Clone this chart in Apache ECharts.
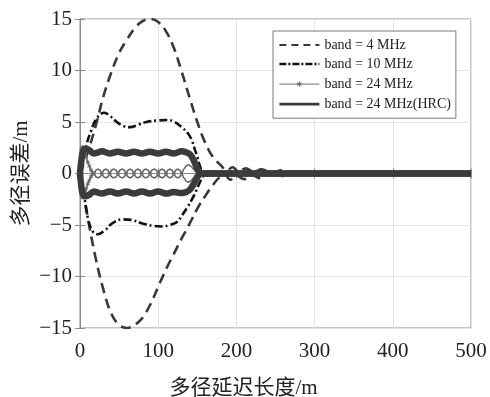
<!DOCTYPE html>
<html>
<head>
<meta charset="utf-8">
<script src="https://cdn.jsdelivr.net/npm/echarts@6/dist/echarts.min.js"></script>
<style>
  html, body { margin: 0; padding: 0; background: #fff; }
  #chart { width: 490px; height: 397px; }
</style>
</head>
<body>
<div id="chart"></div>
<script>
// Multipath error envelopes vs. multipath delay (m)
const seriesNames = ['band = 4 MHz', 'band = 10 MHz', 'band = 24 MHz', 'band = 24 MHz(HRC)'];
const xTicks = [0, 100, 200, 300, 400, 500];
const yTicks = [-15, -10, -5, 0, 5, 10, 15];

// band = 4 MHz
const b4UpX = [0, 10, 20, 30, 40, 50, 60, 70, 80, 90, 100, 110, 120, 130, 140, 150, 160, 170, 180, 188, 195, 203, 212, 222, 232, 245, 258, 270, 500];
const b4UpY = [0, 2.1, 4.6, 7.5, 9.8, 11.7, 13.0, 14.1, 14.8, 15.0, 14.7, 13.8, 12.2, 9.9, 7.4, 5.0, 3.0, 1.6, 0.8, 0.3, 0.6, 0.2, 0.5, 0.15, 0.4, 0.1, 0.3, 0, 0];
const b4LoX = [0, 5, 10, 20, 30, 40, 50, 60, 70, 80, 90, 100, 110, 120, 130, 140, 150, 160, 170, 178, 185, 192, 200, 210, 220, 230, 243, 255, 268, 500];
const b4LoY = [0, -2.0, -4.3, -8.2, -11.3, -13.6, -14.7, -15.0, -14.7, -14.0, -12.7, -11.0, -9.3, -7.8, -6.3, -4.9, -3.4, -2.2, -1.1, -0.4, -0.1, -0.6, -0.2, -0.55, -0.15, -0.45, -0.1, -0.3, 0, 0];

// band = 10 MHz
const b10UpX = [0, 4, 9, 14, 20, 27, 31, 38, 47, 56, 64, 75, 85, 100, 111, 121, 130, 138, 143, 147, 150, 153, 157, 163, 172, 182, 500];
const b10UpY = [0, 1.4, 3.0, 4.1, 5.2, 5.8, 5.9, 5.6, 5.0, 4.6, 4.5, 4.75, 5.0, 5.15, 5.2, 5.0, 4.5, 3.9, 3.2, 2.3, 1.6, 0.8, 0.1, -0.2, 0.15, 0, 0];
const b10LoX = [0, 4, 10, 16, 23, 32, 42, 55, 65, 80, 95, 105, 115, 124, 131, 138, 144, 149, 153, 157, 162, 170, 180, 500];
const b10LoY = [0, -1.5, -4.3, -5.6, -5.9, -5.5, -4.8, -4.45, -4.5, -4.85, -5.1, -5.15, -5.0, -4.7, -4.0, -3.2, -2.4, -1.6, -0.9, -0.3, 0.1, -0.2, 0, 0];

// band = 24 MHz (asterisk markers only on the steep start)
const b24UpX = [0, 0.5, 1, 1.5, 2, 3, 4, 5, 6.5, 8, 10, 12, 14, 16,
  18, 20.5, 23, 25.5, 28, 30.5, 33, 35.5, 38, 40.5, 43, 46, 48.5, 51, 54, 56.5,
  59, 61.5, 64, 66.5, 69, 71.5, 74, 76.5, 79, 81.5, 84, 87, 89.5, 92, 95, 97.5,
  100, 102.5, 105, 107.5, 110, 112.5, 115, 117.5, 120, 122.5, 125, 127.5,
  130, 133, 136, 139, 142, 145, 148, 151, 500];
const b24UpY = [0, 0.9, 1.6, 2.1, 2.4, 2.55, 2.5, 2.35, 2.0, 1.6, 1.1, 0.7, 0.35, 0.1,
  0, 0.32, 0.42, 0.32, 0, 0.32, 0.42, 0.32, 0, 0.32, 0.42, 0.32, 0, 0.32, 0.42, 0.32,
  0, 0.32, 0.42, 0.32, 0, 0.32, 0.42, 0.32, 0, 0.32, 0.42, 0.32, 0, 0.32, 0.42, 0.32,
  0, 0.32, 0.42, 0.32, 0, 0.32, 0.42, 0.32, 0, 0.32, 0.42, 0.32,
  0, 0.45, 0.75, 0.85, 0.7, 0.45, 0.15, 0, 0];
const b24LoX = b24UpX;
const b24LoY = [0, -0.8, -1.5, -1.9, -2.2, -2.3, -2.25, -2.1, -1.8, -1.45, -1.0, -0.65, -0.3, -0.1,
  0, -0.32, -0.42, -0.32, 0, -0.32, -0.42, -0.32, 0, -0.32, -0.42, -0.32, 0, -0.32, -0.42, -0.32,
  0, -0.32, -0.42, -0.32, 0, -0.32, -0.42, -0.32, 0, -0.32, -0.42, -0.32, 0, -0.32, -0.42, -0.32,
  0, -0.32, -0.42, -0.32, 0, -0.32, -0.42, -0.32, 0, -0.32, -0.42, -0.32,
  0, -0.45, -0.75, -0.85, -0.7, -0.45, -0.15, 0, 0];
const b24MarkerEnd = 16;

// band = 24 MHz (HRC)
const hrcUpX = [0, 1, 2, 3, 5, 8, 12, 18, 23, 28, 38, 48.5, 59, 69, 79, 89.5, 100, 110, 120, 130, 136, 140, 144, 147, 150, 153, 156, 500];
const hrcUpY = [0, 0.8, 1.4, 1.9, 2.3, 2.4, 2.25, 1.95, 2.05, 2.15, 1.95, 2.1, 1.95, 2.1, 1.95, 2.1, 1.95, 2.1, 1.95, 2.15, 2.05, 1.9, 1.5, 1.0, 0.5, 0.15, 0, 0];
const hrcLoX = hrcUpX;
const hrcLoY = [0, -0.8, -1.4, -1.85, -2.15, -2.2, -2.05, -1.75, -1.85, -1.95, -1.75, -1.95, -1.75, -1.95, -1.75, -1.95, -1.75, -1.95, -1.8, -1.9, -1.8, -1.6, -1.2, -0.8, -0.35, -0.1, 0, 0];

const serif = '"Liberation Serif", "Times New Roman", serif';
const cjk = '"Liberation Serif", "Noto Sans CJK SC", serif';
const axisGray = '#8a8a8a';
// asterisk strokes; the two empty corner moves pad the box so the star draws at half the symbol size
const asterisk = 'path://M0,-1L0,1M-0.866,-0.5L0.866,0.5M-0.866,0.5L0.866,-0.5M-2,-2L-2,-2M2,2L2,2';

const styles = [
  { color: '#383838', width: 2.6, type: [10, 6], legendType: [7, 5], legendWidth: 2 },
  { color: '#111111', width: 2.6, type: [8, 3, 2, 3], legendType: [7, 2, 2, 2], legendWidth: 2.4 },
  { color: '#6a6a6a', width: 1.7, type: 'solid', legendType: 'solid', legendWidth: 1 },
  { color: '#3b3b3b', width: 6.5, type: 'solid', legendType: 'solid', legendWidth: 2.8 }
];

function makeSeries(idx, xs, ys) {
  const st = styles[idx];
  const s = {
    name: seriesNames[idx],
    type: 'line',
    data: xs.map((x, i) => [x, ys[i]]),
    smooth: 0.4,
    color: st.color,
    lineStyle: { color: st.color, width: st.width, type: st.type },
    symbol: 'none',
    animation: false,
    z: 2 + idx
  };
  if (idx === 2) {
    s.smoothMonotone = 'x';
    s.symbol = asterisk;
    s.symbolSize = 9;
    s.showSymbol = true;
    s.showAllSymbol = true;
    s.itemStyle = { color: 'none', borderColor: st.color, borderWidth: 1 };
    s.data = xs.map((x, i) => x <= b24MarkerEnd ? [x, ys[i]] : { value: [x, ys[i]], symbol: 'none' });
  }
  return s;
}

const series = [
  makeSeries(0, b4UpX, b4UpY), makeSeries(0, b4LoX, b4LoY),
  makeSeries(1, b10UpX, b10UpY), makeSeries(1, b10LoX, b10LoY),
  makeSeries(2, b24UpX, b24UpY), makeSeries(2, b24LoX, b24LoY),
  makeSeries(3, hrcUpX, hrcUpY), makeSeries(3, hrcLoX, hrcLoY)
];

const minus = v => String(v).replace('-', '\u2212');

const chart = echarts.init(document.getElementById('chart'), null, { renderer: 'canvas' });
chart.setOption({
  backgroundColor: '#ffffff',
  animation: false,
  grid: {
    left: 80, right: 19, top: 19, bottom: 69,
    outerBoundsMode: 'none', containLabel: false,
    show: true, borderColor: axisGray, borderWidth: 1, backgroundColor: 'transparent'
  },
  legend: {
    orient: 'vertical',
    left: 273, top: 31,
    padding: [7, 5, 7, 5],
    itemWidth: 40, itemHeight: 14, itemGap: 5,
    backgroundColor: '#ffffff',
    borderColor: '#7a7a7a', borderWidth: 1,
    textStyle: { fontFamily: serif, fontSize: 14, color: '#222' },
    data: seriesNames.map((n, i) => ({
      name: n,
      lineStyle: { width: styles[i].legendWidth, type: styles[i].legendType },
      itemStyle: i === 2 ? { color: 'none', borderColor: styles[i].color, borderWidth: 1 } : { opacity: 0 }
    })),
    selectedMode: false
  },
  xAxis: [{
    type: 'value', min: 0, max: 500, interval: 100,
    name: '多径延迟长度/m', nameLocation: 'middle', nameGap: 50,
    nameTextStyle: { fontFamily: cjk, fontSize: 21, color: '#222', padding: [0, 64, 0, 0] },
    axisLine: { show: true, lineStyle: { color: axisGray } },
    axisTick: { show: true, inside: true, length: 5, lineStyle: { color: axisGray } },
    axisLabel: { fontFamily: serif, fontSize: 21, color: '#222', margin: 13, formatter: v => xTicks.includes(v) ? String(v) : '' },
    splitLine: { show: true, lineStyle: { color: '#e4e4e4', width: 1 } }
  }, {
    type: 'value', min: 0, max: 500, interval: 100, position: 'top',
    axisLine: { show: true, lineStyle: { color: axisGray } },
    axisTick: { show: true, inside: true, length: 5, lineStyle: { color: axisGray } },
    axisLabel: { show: false }, splitLine: { show: false }
  }],
  yAxis: [{
    type: 'value', min: -15, max: 15, interval: 5,
    name: '多径误差/m', nameLocation: 'middle', nameGap: 48, nameRotate: 90,
    nameMoveOverlap: false,
    nameTextStyle: { fontFamily: cjk, fontSize: 21, color: '#222' },
    axisLine: { show: true, lineStyle: { color: axisGray } },
    axisTick: { show: true, inside: true, length: 5, lineStyle: { color: axisGray } },
    axisLabel: { fontFamily: serif, fontSize: 21, color: '#222', margin: 8, formatter: v => yTicks.includes(v) ? minus(v) : '' },
    splitLine: { show: true, lineStyle: { color: '#e4e4e4', width: 1 } }
  }, {
    type: 'value', min: -15, max: 15, interval: 5, position: 'right',
    axisLine: { show: true, lineStyle: { color: axisGray } },
    axisTick: { show: true, inside: true, length: 5, lineStyle: { color: axisGray } },
    axisLabel: { show: false }, splitLine: { show: false }
  }],
  series: series
});
</script>
</body>
</html>
